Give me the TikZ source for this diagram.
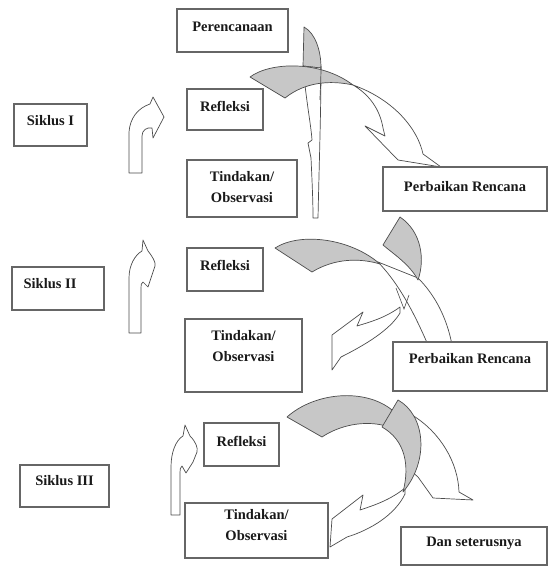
\documentclass[tikz,border=0pt]{standalone}
\usepackage{fontspec}
\setmainfont{Liberation Serif}
\begin{document}
\begin{tikzpicture}[x=1pt,y=-1pt,
  box/.style={draw=black!60, line width=1.1pt, fill=white, inner sep=0pt},
  lbl/.style={font=\bfseries\fontsize{14.5}{21}\selectfont, align=center, text=black!90},
  gshape/.style={draw=black!70, fill=black!22, line width=0.7pt, line join=round},
  wshape/.style={draw=black!70, fill=white, line width=0.7pt, line join=round}]
\useasboundingbox (0,0) rectangle (548,567);

% ---------- up arrows ----------
\draw[wshape] (129,173) -- (129,132) .. controls (130,118) and (138,108) .. (150,104) -- (153,97) -- (164,117) -- (153,138) -- (152,128) .. controls (147,127) and (142,130) .. (142,136) -- (142,173) -- cycle;
\draw[wshape] (129,333) -- (129,278) .. controls (129,265) and (135,255) .. (142,251) -- (143,240) -- (148,251) .. controls (152,256) and (156,262) .. (155,266) -- (152,275) -- (148,287) -- (143,282) .. controls (141,283) and (141,285) .. (141,288) -- (141,333) -- cycle;
\draw[wshape] (171,515) -- (171,467) .. controls (171,452) and (176,440) .. (183,436) -- (185,425) -- (190,436) .. controls (196,442) and (198,448) .. (197,452) -- (193,462) -- (186,473) -- (182,466) .. controls (180,467) and (180,470) .. (180,473) -- (180,515) -- cycle;

% ---------- cycle I ----------
\draw[gshape] (304,27) -- (303,66) -- (321,68) .. controls (321,50) and (315,33) .. (304,27) -- cycle;
\draw[wshape] (303,66) .. controls (306,100) and (311,125) .. (312,140) -- (308,143) -- (311,158) .. controls (312,180) and (313,200) .. (313,218) -- (318,218) .. controls (319,170) and (321,110) .. (321,68) -- cycle;
\draw[wshape] (353,85) .. controls (395,100) and (418,130) .. (423,154) -- (441,167) -- (398,160) -- (365,126) -- (385,136) -- (383,128) .. controls (380,110) and (370,95) .. (353,85) -- cycle;
\draw[gshape] (250,77) .. controls (270,62) and (320,60) .. (353,85) .. controls (330,80) and (305,82) .. (285,98) -- cycle;
\draw[black!70, line width=0.7pt] (321,66) .. controls (321,80) and (320,95) .. (320,100);

% ---------- cycle II ----------
\draw[wshape] (378,262) -- (418,278) .. controls (435,295) and (447,318) .. (452,345) -- (428,345) .. controls (415,315) and (400,285) .. (378,262) -- cycle;
\draw[wshape] (400,307) .. controls (385,318) and (370,322) .. (357,326) -- (363,312) -- (332,335) -- (332,370) -- (341,357) .. controls (365,345) and (390,330) .. (400,313) -- cycle;
\draw[gshape] (275,248) .. controls (300,232) and (350,238) .. (380,264) .. controls (360,258) and (335,258) .. (312,272) -- cycle;
\draw[gshape] (400,217) -- (383,245) .. controls (395,255) and (410,265) .. (418,280) .. controls (425,260) and (422,232) .. (400,217) -- cycle;
\draw[black!70, line width=0.6pt] (396,288) -- (404,309) -- (409,295);

% ---------- cycle III ----------
\draw[wshape] (412,415) .. controls (440,432) and (458,462) .. (459,492) -- (473,500) -- (433,498) -- (418,477) -- (410,470) -- cycle;
\draw[wshape] (405,488) .. controls (390,500) and (375,505) .. (360,510) -- (363,495) -- (332,519) -- (330,547) -- (347,537) .. controls (370,530) and (395,515) .. (405,494) -- cycle;
\draw[gshape] (287,417) .. controls (315,392) and (365,388) .. (392,410) -- (386,426) .. controls (365,420) and (340,425) .. (322,437) -- cycle;
\draw[gshape] (398,400) .. controls (425,415) and (430,460) .. (403,492) .. controls (410,465) and (405,440) .. (382,427) -- cycle;

% ---------- boxes ----------
\node[box, minimum width=111pt, minimum height=43pt, label={[lbl, yshift=4pt]center:Perencanaan}] (pr) at (232.5,30.5) {};
\node[box, minimum width=76pt, minimum height=41pt, label={[lbl, yshift=3pt]center:Refleksi}] (r1) at (225,109.5) {};
\node[box, minimum width=110pt, minimum height=57pt, label={[lbl, yshift=1pt]center:Tindakan/\\Observasi}] (t1) at (242,188.5) {};
\node[box, minimum width=164pt, minimum height=44pt, label={[lbl, yshift=2pt]center:Perbaikan Rencana}] (pb1) at (465,189) {};
\node[box, minimum width=73pt, minimum height=42pt, label={[lbl, yshift=4pt]center:Siklus I}] (s1) at (50.5,125) {};

\node[box, minimum width=92pt, minimum height=43pt, label={[lbl, yshift=5pt, xshift=-8pt]center:Siklus II}] (s2) at (58,288.5) {};
\node[box, minimum width=76pt, minimum height=43pt, label={[lbl, yshift=4pt]center:Refleksi}] (r2) at (225,269.5) {};
\node[box, minimum width=117pt, minimum height=73pt, label={[lbl, yshift=9pt]center:Tindakan/\\Observasi}] (t2) at (243.5,355.5) {};
\node[box, minimum width=154pt, minimum height=49pt, label={[lbl, yshift=8pt]center:Perbaikan Rencana}] (pb2) at (470,366.5) {};

\node[box, minimum width=89pt, minimum height=42pt, label={[lbl, yshift=5pt]center:Siklus III}] (s3) at (64.5,486) {};
\node[box, minimum width=75pt, minimum height=43pt, label={[lbl, yshift=3pt]center:Refleksi}] (r3) at (241.5,444.5) {};
\node[box, minimum width=143pt, minimum height=55pt, label={[lbl, yshift=5pt]center:Tindakan/\\Observasi}] (t3) at (256.5,530.5) {};
\node[box, minimum width=146pt, minimum height=38pt, label={[lbl, yshift=3pt]center:Dan seterusnya}] (ds) at (474,546) {};
\end{tikzpicture}
\end{document}
